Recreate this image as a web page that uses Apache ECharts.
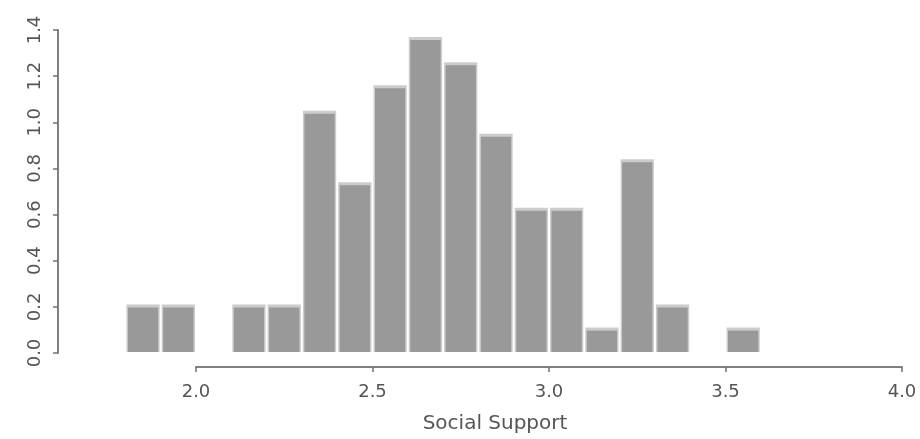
<!DOCTYPE html>
<html>
<head>
<meta charset="utf-8">
<script src="https://cdn.jsdelivr.net/npm/echarts@6/dist/echarts.min.js"></script>
<style>html,body{margin:0;padding:0;background:#fff;}#c{width:920px;height:439px;}</style>
</head>
<body>
<div id="c"></div>
<script>
// Histogram bins (Social Support), density values
var binStarts = [1.8, 1.9, 2.0, 2.1, 2.2, 2.3, 2.4, 2.5, 2.6, 2.7, 2.8, 2.9, 3.0, 3.1, 3.2, 3.3, 3.4, 3.5];
var binEnds   = [1.9, 2.0, 2.1, 2.2, 2.3, 2.4, 2.5, 2.6, 2.7, 2.8, 2.9, 3.0, 3.1, 3.2, 3.3, 3.4, 3.5, 3.6];
var densities = [0.21, 0.21, 0, 0.21, 0.21, 1.05, 0.74, 1.16, 1.37, 1.26, 0.95, 0.63, 0.63, 0.11, 0.84, 0.21, 0, 0.11];
var xTicks = [2.0, 2.5, 3.0, 3.5, 4.0];
var yTicks = [0.0, 0.2, 0.4, 0.6, 0.8, 1.0, 1.2, 1.4];
var xTitle = 'Social Support';

var chart = echarts.init(document.getElementById('c'), null, {renderer: 'canvas'});
var data = binStarts.map(function (s, i) { return [s, binEnds[i], densities[i]]; });
var FONT = 'DejaVu Sans';

function renderItem(params, api) {
  var x0 = api.value(0), x1 = api.value(1), v = api.value(2);
  if (!v) { return null; }
  var p0 = api.coord([x0, v]);
  var p1 = api.coord([x1, 0]);
  var left = p0[0] + 1, right = p1[0] - 1, top = p0[1], bottom = p1[1] - 1;
  return {
    type: 'group',
    children: [
      {type: 'rect', shape: {x: left, y: top, width: right - left, height: bottom - top}, style: {fill: '#cccccc'}},
      {type: 'rect', shape: {x: left + 1.5, y: top + 3, width: right - left - 3, height: bottom - top - 3}, style: {fill: '#999999'}}
    ]
  };
}

chart.setOption({
  animation: false,
  backgroundColor: '#ffffff',
  grid: {left: 196, right: 18, top: 30, bottom: 86, containLabel: false},
  xAxis: {
    type: 'value', min: xTicks[0], max: xTicks[xTicks.length - 1], interval: 0.5,
    position: 'bottom', offset: 14,
    axisLine: {show: true, onZero: false, lineStyle: {color: '#808080', width: 2}},
    axisTick: {show: true, length: 5, lineStyle: {color: '#707070', width: 1.5}},
    axisLabel: {margin: 16, fontSize: 18, fontFamily: FONT, color: '#555555',
      formatter: function (v) { return v.toFixed(1); }},
    splitLine: {show: false}
  },
  yAxis: {
    type: 'value', min: yTicks[0], max: yTicks[yTicks.length - 1], interval: 0.2,
    position: 'left', offset: 138,
    axisLine: {show: true, onZero: false, lineStyle: {color: '#808080', width: 2}},
    axisTick: {show: true, length: 5, lineStyle: {color: '#707070', width: 1.5}},
    axisLabel: {margin: 14, rotate: 90, fontSize: 18, fontFamily: FONT, color: '#555555',
      formatter: function (v) { return v.toFixed(1); }},
    splitLine: {show: false}
  },
  graphic: [{
    type: 'text', x: 495, y: 424,
    style: {text: xTitle, fontSize: 20, fontFamily: FONT, fill: '#555555', textAlign: 'center', textVerticalAlign: 'middle'}
  }],
  series: [{
    type: 'custom', renderItem: renderItem, clip: false,
    encode: {x: [0, 1], y: 2},
    data: data
  }]
});
</script>
</body>
</html>
